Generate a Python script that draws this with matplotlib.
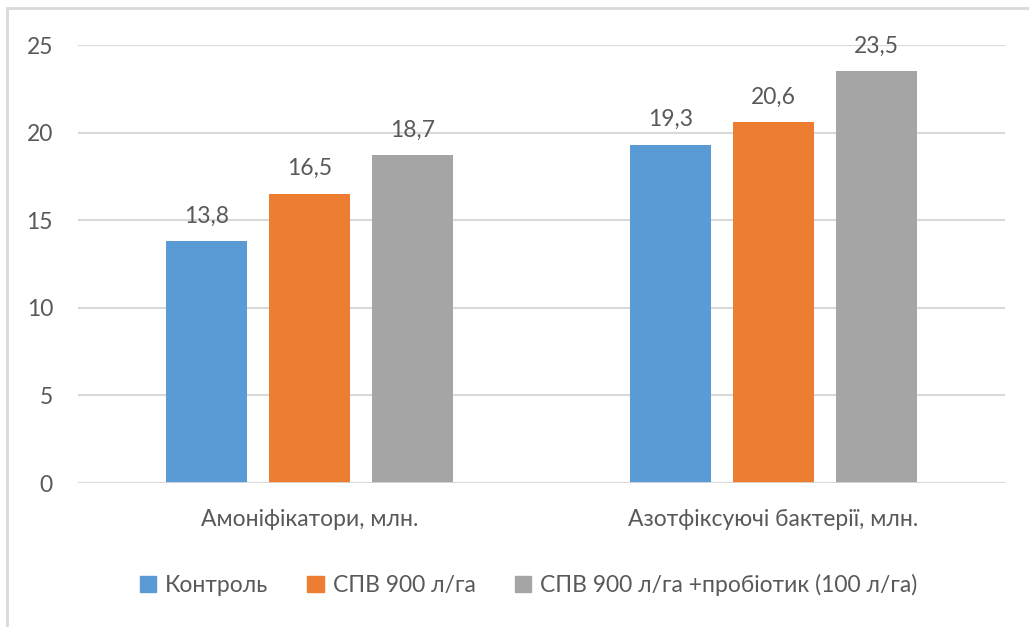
import matplotlib
matplotlib.use("Agg")
import matplotlib.pyplot as plt
import numpy as np
from matplotlib.patches import Rectangle

plt.rcParams['font.family'] = ['Lato', 'Noto Sans', 'DejaVu Sans']

categories = ["Амоніфікатори, млн.", "Азотфіксуючі бактерії, млн."]
series_names = ["Контроль", "СПВ 900 л/га", "СПВ 900 л/га +пробіотик (100 л/га)"]
control = [13.8, 19.3]
spv = [16.5, 20.6]
spv_probiotic = [18.7, 23.5]
colors = ["#5b9bd5", "#ed7d31", "#a5a5a5"]
text_color = "#595959"
grid_color = "#d9d9d9"

W, H = 1029, 627
fig = plt.figure(figsize=(W / 100, H / 100), dpi=100)

# chart frame (light border on the top and left)
fig.patches.append(Rectangle((7 / W, -0.1), 1.2, (H - 8) / H + 0.1, transform=fig.transFigure,
                             fill=False, edgecolor="#d9d9d9", linewidth=2.0))

ax = fig.add_axes([78 / W, 1 - 483 / H, (1005 - 78) / W, (483 - 45) / H])
x = np.arange(len(categories))
width = 0.175
step = 0.2225
fs = 16.5
for i, (vals, c) in enumerate(zip([control, spv, spv_probiotic], colors)):
    bars = ax.bar(x + (i - 1) * step, vals, width, color=c, zorder=3, label=series_names[i])
    for b, v in zip(bars, vals):
        ax.annotate(f"{v:.1f}".replace(".", ","), (b.get_x() + b.get_width() / 2, v),
                    xytext=(0, 10.5), textcoords="offset points", ha="center", va="bottom",
                    fontsize=fs, color=text_color)

ax.set_xlim(-0.5, 1.5)
ax.set_ylim(0, 25)
ax.set_yticks([0, 5, 10, 15, 20, 25])
ax.yaxis.grid(True, color=grid_color, linewidth=1.5, zorder=0)
for s in ax.spines.values():
    s.set_visible(False)
ax.axhline(0, color=grid_color, linewidth=2, zorder=4)
ax.tick_params(axis="both", length=0, labelsize=fs, labelcolor=text_color)
ax.tick_params(axis="y", pad=18)
ax.tick_params(axis="x", pad=19)
ax.set_xticks(x)
ax.set_xticklabels(categories)

handles = [Rectangle((0, 0), 1, 1, color=c) for c in colors]
fig.legend(handles, series_names, loc="center", bbox_to_anchor=(528.5 / W, 1 - 585 / H),
           ncol=3, frameon=False, fontsize=fs, labelcolor=text_color,
           handlelength=0.7, handleheight=0.7, handletextpad=0.4, columnspacing=1.7)

fig.savefig("out.png", dpi=100)
